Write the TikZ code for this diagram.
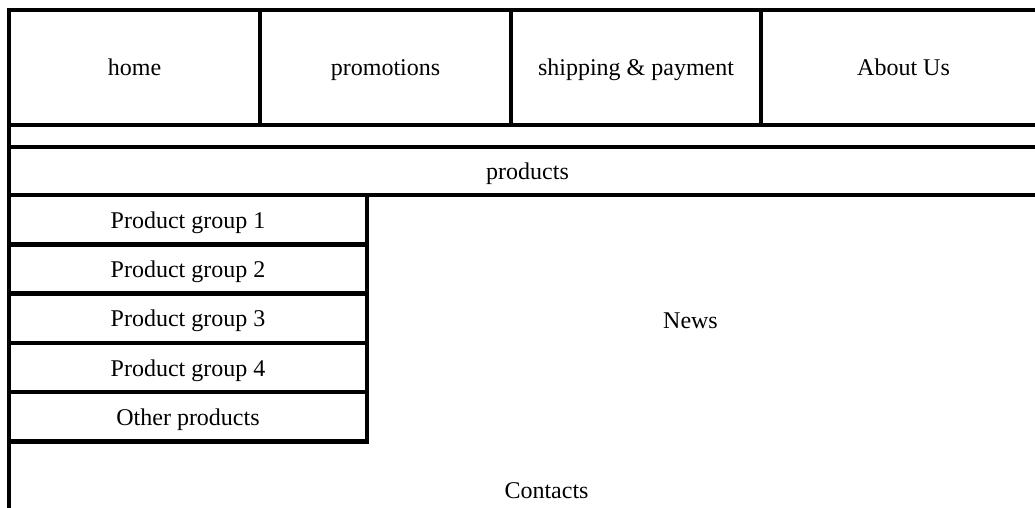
\documentclass[tikz,border=0pt]{standalone}
\usepackage{fontspec}
\setmainfont{Liberation Serif}
\usetikzlibrary{positioning}

\tikzset{
  cell/.style={draw, rectangle, line width=4.5pt, inner sep=0pt, outer sep=0pt,
               text height=20pt, text depth=3pt,
               font=\fontsize{24}{28}\selectfont},
  label/.style={text height=20pt, text depth=3pt,
                font=\fontsize{24}{28}\selectfont}
}

\begin{document}
\begin{tikzpicture}[x=1pt, y=-1pt]
    \clip (0,0) rectangle (1035,508);
    \fill[white] (0,0) rectangle (1035,508);

    % top menu
    \foreach \name/\txt/\x/\w in {home/home/9/251, promo/promotions/260/251,
                                  ship/shipping \& payment/511/250,
                                  about/About Us/761/285}{
      \node[cell, anchor=north west, minimum width=\w pt, minimum height=115pt]
        (\name) at (\x,10) {\txt};
    }

    % products bar
    \node[cell, anchor=north west, minimum width=1037pt, minimum height=48pt]
      (products) at (9,147) {products};

    % product groups on the left
    \foreach \txt [count=\i from 0] in {Product group 1, Product group 2,
                                        Product group 3, Product group 4,
                                        Other products}{
      \node[cell, anchor=north west, minimum width=358pt, minimum height=49.3pt]
        (group\i) at (9,195+\i*49.3) {\txt};
    }

    \node[label] (news) at (690.5,320) {News};
    \node[label] (contacts) at (546.5,490) {Contacts};

    % left border of the page
    \coordinate (bottom) at (9,530);
    \draw[line width=4.5pt] (home.north west) -- (bottom);
\end{tikzpicture}
\end{document}
